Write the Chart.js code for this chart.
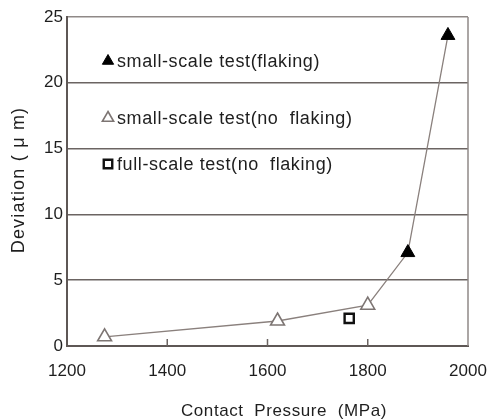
<!DOCTYPE html>
<html>
<head>
<meta charset="utf-8">
<script src="https://cdn.jsdelivr.net/npm/chart.js@4.4.1/dist/chart.umd.min.js"></script>
<style>
  html, body { margin: 0; padding: 0; background: #fff; }
  #wrap { width: 488px; height: 420px; }
</style>
</head>
<body>
<div id="wrap"><canvas id="chart"></canvas></div>
<script>
// données
const flakingPressure = [1880, 1960];
const flakingDeviation = [7.1, 23.6];
const noFlakingPressure = [1275, 1620, 1800];
const noFlakingDeviation = [0.7, 1.9, 3.1];
const fullScalePressure = [1763];
const fullScaleDeviation = [2.1];
const xTicks = [1200, 1400, 1600, 1800, 2000];
const yTicks = [0, 5, 10, 15, 20, 25];
const legendLabels = [
    'small-scale test(flaking)',
    'small-scale test(no  flaking)',
    'full-scale test(no  flaking)'
];
const xTitle = 'Contact  Pressure  (MPa)';
const yTitle = 'Deviation ( μ m)';

const FONT = '"Liberation Sans", Arial, sans-serif';
const TEXT = '#1e1e1e';
const toPoints = (xs, ys) => xs.map((x, i) => ({ x: x, y: ys[i] }));

// la courbe relie tous les triangles dans l'ordre des pressions
const trendPoints = toPoints(noFlakingPressure, noFlakingDeviation)
    .concat(toPoints(flakingPressure, flakingDeviation))
    .sort((a, b) => a.x - b.x);

// légende dessinée dans la zone du graphique, petits traits intérieurs, titres des axes
const innerDecor = {
    id: 'innerDecor',
    afterDatasetsDraw(chart) {
        const ctx = chart.ctx;
        const area = chart.chartArea;
        const xs = chart.scales.x;

        ctx.save();
        // petits traits vers le haut
        ctx.strokeStyle = '#6b6462';
        ctx.lineWidth = 1.5;
        [1400, 1600, 1800].forEach(v => {
            const px = xs.getPixelForValue(v);
            ctx.beginPath();
            ctx.moveTo(px, area.bottom);
            ctx.lineTo(px, area.bottom - 7);
            ctx.stroke();
        });

        // légende
        const rows = [61, 118, 164];
        const ds = chart.data.datasets.slice(1);
        ctx.letterSpacing = '0.6px';
        ds.forEach((d, i) => {
            const opts = {
                pointStyle: d.pointStyle,
                radius: d.legendRadius,
                rotation: 0,
                borderWidth: d.borderWidth
            };
            ctx.fillStyle = d.backgroundColor;
            ctx.strokeStyle = d.borderColor;
            ctx.lineWidth = d.borderWidth;
            Chart.helpers.drawPoint(ctx, opts, 108, rows[i]);
            ctx.fillStyle = TEXT;
            ctx.font = '18px ' + FONT;
            ctx.textBaseline = 'middle';
            ctx.textAlign = 'left';
            ctx.fillText(legendLabels[i], 117, rows[i] + 1);
        });

        // titre de l'axe x (décalé à droite comme sur l'original)
        ctx.font = '17px ' + FONT;
        ctx.textAlign = 'center';
        ctx.fillText(xTitle, 284, 411);

        // titre de l'axe y
        ctx.font = '18px ' + FONT;
        ctx.letterSpacing = '1.2px';
        ctx.translate(19, 180);
        ctx.rotate(-Math.PI / 2);
        ctx.fillText(yTitle, 0, 0);
        ctx.restore();
    }
};

const rightEdge = {
    id: 'rightEdge',
    beforeDatasetsDraw(chart) {
        const a = chart.chartArea;
        const ctx = chart.ctx;
        ctx.save();
        ctx.strokeStyle = '#8f8987';
        ctx.lineWidth = 1.5;
        ctx.beginPath();
        ctx.moveTo(a.right, a.top);
        ctx.lineTo(a.right, a.bottom);
        ctx.stroke();
        ctx.restore();
    }
};

new Chart(document.getElementById('chart'), {
    type: 'scatter',
    data: {
        datasets: [
            {
                label: 'trend',
                data: trendPoints,
                showLine: true,
                borderColor: '#8a807d',
                borderWidth: 1.3,
                pointRadius: 0,
                order: 5
            },
            {
                label: legendLabels[0],
                data: toPoints(flakingPressure, flakingDeviation),
                pointStyle: 'triangle',
                pointRadius: 8,
                legendRadius: 6.5,
                backgroundColor: '#000',
                borderColor: '#000',
                borderWidth: 1,
                order: 1
            },
            {
                label: legendLabels[1],
                data: toPoints(noFlakingPressure, noFlakingDeviation),
                pointStyle: 'triangle',
                pointRadius: 8,
                legendRadius: 6.5,
                backgroundColor: '#fff',
                borderColor: '#7d7573',
                borderWidth: 1.6,
                order: 2
            },
            {
                label: legendLabels[2],
                data: toPoints(fullScalePressure, fullScaleDeviation),
                pointStyle: 'rect',
                pointRadius: 6.5,
                legendRadius: 6,
                backgroundColor: '#fff',
                borderColor: '#111',
                borderWidth: 2.4,
                order: 3
            }
        ]
    },
    options: {
        responsive: true,
        maintainAspectRatio: false,
        animation: false,
        layout: { padding: { top: 17, right: 20, left: 0, bottom: 0 } },
        plugins: {
            legend: { display: false },
            tooltip: { enabled: false }
        },
        scales: {
            x: {
                type: 'linear',
                min: 1200,
                max: 2000,
                afterBuildTicks: (axis) => { axis.ticks = xTicks.map(v => ({ value: v })); },
                afterFit: (axis) => {
                    axis.height = 74;
                    axis.paddingLeft = 0;
                    axis.paddingRight = 0;
                },
                grid: { display: false, drawTicks: false },
                border: { display: true, color: '#5e5755', width: 2 },
                ticks: {
                    color: TEXT,
                    padding: 15,
                    font: { family: FONT, size: 17 },
                    callback: (v) => String(v)
                }
            },
            y: {
                min: 0,
                max: 25,
                afterBuildTicks: (axis) => { axis.ticks = yTicks.map(v => ({ value: v })); },
                afterFit: (axis) => {
                    axis.width = 67;
                    axis.paddingTop = 0;
                    axis.paddingBottom = 0;
                },
                grid: {
                    drawTicks: false,
                    color: (c) => (c.tick && c.tick.value === 25) ? '#8f8987' : '#6b6462',
                    lineWidth: (c) => (c.tick && c.tick.value === 0) ? 0 : 1.6
                },
                border: { display: true, color: '#5e5755', width: 2 },
                ticks: {
                    color: TEXT,
                    padding: 4,
                    font: { family: FONT, size: 17 }
                }
            }
        }
    },
    plugins: [innerDecor, rightEdge]
});
</script>
</body>
</html>
